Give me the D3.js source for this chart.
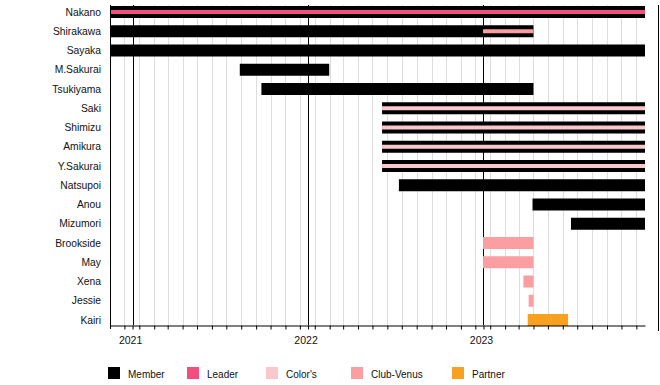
<!DOCTYPE html>
<html>
<head>
<meta charset="utf-8">
<script src="https://cdn.jsdelivr.net/npm/d3@7"></script>
<style>
  html, body { margin: 0; padding: 0; background: #fff; }
  svg { display: block; font-family: "Liberation Sans", Arial, sans-serif; }
</style>
</head>
<body>
<svg id="chart" width="660" height="385"></svg>
<script>
// ---- Data ----
const names = ["Nakano","Shirakawa","Sayaka","M.Sakurai","Tsukiyama","Saki","Shimizu","Amikura","Y.Sakurai","Natsupoi","Anou","Mizumori","Brookside","May","Xena","Jessie","Kairi"];
const roles = ["Member","Leader","Color's","Club-Venus","Partner"];
const roleColors = ["#000000","#f24f80","#fac8cc","#fb9ea2","#f8a020"];
const domainStart = "2020-11-15";
const domainEnd = "2023-12-03";
const yearTicks = ["2021-01-01","2022-01-01","2023-01-01"];
const yearLabels = ["2021","2022","2023"];
// main bars: [name, role, start, end]
const bars = [
  ["Nakano","Member","2020-11-15","2023-12-03"],
  ["Shirakawa","Member","2020-11-15","2023-04-15"],
  ["Sayaka","Member","2020-11-15","2023-12-03"],
  ["M.Sakurai","Member","2021-08-12","2022-02-14"],
  ["Tsukiyama","Member","2021-09-26","2023-04-15"],
  ["Saki","Member","2022-06-04","2023-12-03"],
  ["Shimizu","Member","2022-06-04","2023-12-03"],
  ["Amikura","Member","2022-06-04","2023-12-03"],
  ["Y.Sakurai","Member","2022-06-04","2023-12-03"],
  ["Natsupoi","Member","2022-07-09","2023-12-03"],
  ["Anou","Member","2023-04-13","2023-12-03"],
  ["Mizumori","Member","2023-07-02","2023-12-03"],
  ["Brookside","Club-Venus","2022-12-31","2023-04-15"],
  ["May","Club-Venus","2022-12-31","2023-04-15"],
  ["Xena","Club-Venus","2023-03-25","2023-04-15"],
  ["Jessie","Club-Venus","2023-04-05","2023-04-15"],
  ["Kairi","Partner","2023-04-03","2023-06-26"]
];
// thin stripes over bars: [name, role, start, end]
const stripes = [
  ["Nakano","Leader","2020-11-15","2023-12-03"],
  ["Shirakawa","Club-Venus","2022-12-31","2023-04-15"],
  ["Saki","Color's","2022-06-04","2023-12-03"],
  ["Shimizu","Color's","2022-06-04","2023-12-03"],
  ["Amikura","Color's","2022-06-04","2023-12-03"],
  ["Y.Sakurai","Color's","2022-06-04","2023-12-03"]
];

// ---- Chart ----
const parse = d3.utcParse("%Y-%m-%d");
const svg = d3.select("#chart");
const plotLeft = 110, plotRight = 645, plotTop = 5, plotBottom = 325;

const x = d3.scaleUtc().domain([parse(domainStart), parse(domainEnd)]).range([plotLeft, plotRight]);
const y = d3.scalePoint().domain(names).range([12, 320]);
const color = d3.scaleOrdinal().domain(roles).range(roleColors);

// monthly grid, stepping from the start date
const months = [];
for (let k = 1; ; k++) {
  const d = d3.utcMonth.offset(parse(domainStart), k);
  if (d > parse(domainEnd)) break;
  months.push(d);
}
svg.append("g").selectAll("line").data(months).join("line")
  .attr("x1", d => Math.round(x(d)) + 0.5).attr("x2", d => Math.round(x(d)) + 0.5)
  .attr("y1", plotTop).attr("y2", plotBottom)
  .attr("stroke", "#dddddd").attr("stroke-width", 1);

const years = yearTicks.map(parse);
svg.append("g").selectAll("line").data(years).join("line")
  .attr("x1", d => Math.round(x(d)) + 0.5).attr("x2", d => Math.round(x(d)) + 0.5)
  .attr("y1", plotTop).attr("y2", plotBottom)
  .attr("stroke", "#000").attr("stroke-width", 1);

const barH = 12, stripeH = 4;
svg.append("g").selectAll("rect").data(bars).join("rect")
  .attr("x", d => x(parse(d[2])))
  .attr("width", d => x(parse(d[3])) - x(parse(d[2])))
  .attr("y", d => y(d[0]) - barH / 2)
  .attr("height", barH)
  .attr("fill", d => color(d[1]));

svg.append("g").selectAll("rect").data(stripes).join("rect")
  .attr("x", d => x(parse(d[2])))
  .attr("width", d => x(parse(d[3])) - x(parse(d[2])))
  .attr("y", d => y(d[0]) - stripeH / 2)
  .attr("height", stripeH)
  .attr("fill", d => color(d[1]));

// bottom axis with monthly ticks, labelled years
const allTicks = months.concat(years).sort((a, b) => a - b);
const xAxis = d3.axisBottom(x)
  .tickValues(allTicks)
  .tickSize(4)
  .tickSizeOuter(0)
  .tickFormat(() => "");
const gx = svg.append("g").attr("transform", `translate(0,${plotBottom + 0.5})`).call(xAxis);
gx.selectAll(".tick line").attr("stroke", "#000");
gx.select(".domain").attr("stroke", "#000");

svg.append("g").selectAll("text").data(years).join("text")
  .attr("x", (d, i) => x(d) - 2)
  .attr("y", 344)
  .attr("text-anchor", "middle")
  .attr("font-size", "10.5px")
  .attr("fill", "#111")
  .text((d, i) => yearLabels[i]);

// left axis line
svg.append("line").attr("x1", plotLeft + 0.5).attr("x2", plotLeft + 0.5)
  .attr("y1", plotTop).attr("y2", plotBottom + 4).attr("stroke", "#000");
// right border line
svg.append("line").attr("x1", 658.5).attr("x2", 658.5)
  .attr("y1", plotTop).attr("y2", 331).attr("stroke", "#000");

// row labels
svg.append("g").selectAll("text").data(names).join("text")
  .attr("x", 101)
  .attr("y", d => y(d))
  .attr("dy", "0.35em")
  .attr("text-anchor", "end")
  .attr("font-size", "10.3px")
  .attr("fill", "#111")
  .text(d => d);

// legend
const legendX = [108, 187, 266, 351, 452];
const lg = svg.append("g").selectAll("g").data(roles).join("g")
  .attr("transform", (d, i) => `translate(${legendX[i]},367)`);
lg.append("rect").attr("width", 12).attr("height", 12).attr("fill", d => color(d));
lg.append("text").attr("x", 20).attr("y", 7).attr("dy", "0.35em")
  .attr("font-size", "10px").attr("fill", "#111").text(d => d);
</script>
</body>
</html>
